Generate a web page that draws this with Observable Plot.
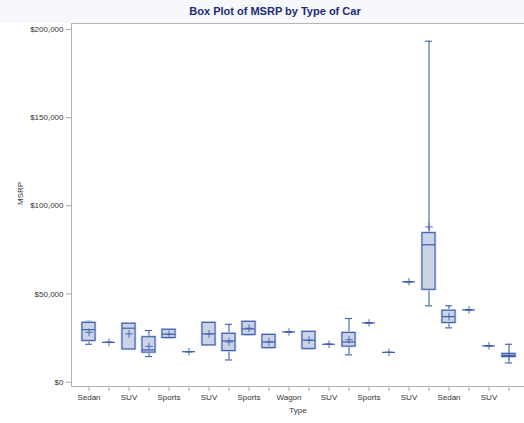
<!DOCTYPE html>
<html>
<head>
<meta charset="utf-8">
<script src="https://cdn.jsdelivr.net/npm/d3@7"></script>
<script src="https://cdn.jsdelivr.net/npm/@observablehq/plot@0.6"></script>
<style>
  html, body { margin: 0; padding: 0; background: #ffffff; width: 524px; height: 423px; overflow: hidden; }
  #title { width: 524px; height: 23px; background: #f6f8fc; position: relative; }
  #title span { position: absolute; left: 0; width: 550px; top: 5px; text-align: center;
    font-family: "Liberation Sans", Arial, sans-serif; font-weight: bold; font-size: 11px; color: #1d2c78; }
  #chart svg g[aria-label*="axis"] line, #chart svg g[aria-label*="axis"] path { stroke: #a9a9a9; }
</style>
</head>
<body>
<div id="title"><span>Box Plot of MSRP by Type of Car</span></div>
<div id="chart"></div>
<script>
// Category (Type) labels, one per box, left to right
const types = ["Sedan","Sports","SUV","Sedan","Sports","Wagon","SUV","Sedan","Sports","Sedan","Wagon",
               "Sedan","SUV","Sedan","Sports","Wagon","SUV","Sedan","Sedan","Sports","SUV","Sedan"];
// Box statistics (MSRP, $)
const mins    = [21500,22600,18600,14500,25100,17300,20900,12600,26800,19400,28500,18900,21500,15500,33600,16900,56900, 43300,30800,41000,20600,10900];
const q1s     = [23400,22600,18600,16800,25100,17300,20900,17700,26800,19400,28500,18900,21500,20200,33600,16900,56900, 52400,33600,41000,20600,14300];
const medians = [29800,22600,30600,18300,27200,17300,27400,23400,30200,22800,28500,23800,21500,22800,33600,16900,56900, 77900,37200,41000,20600,15200];
const q3s     = [33600,22600,33100,25500,29700,17300,33600,27400,34200,26800,28500,28500,21500,27900,33600,16900,56900, 84500,40500,41000,20600,16000];
const maxs    = [34500,22600,33100,29300,29700,17300,33600,32800,34200,26800,28500,28500,21500,36100,33600,16900,56900,193300,43300,41000,20600,21500];
const means   = [28300,22600,27400,20300,27200,17300,27400,22800,30600,22800,28500,23800,21500,24100,33600,16900,56900, 88000,37200,41000,20600,15200];
const yTicks  = [0, 50000, 100000, 150000, 200000];

const data = types.map((t, i) => ({
  key: i, type: t, min: mins[i], q1: q1s[i], median: medians[i], q3: q3s[i], max: maxs[i], mean: means[i]
}));

const blue = "#3e5eae";
const fmt = d3.format(",");

const chart = Plot.plot({
  width: 524,
  height: 400,
  marginLeft: 71,
  marginRight: 0,
  marginTop: 0,
  marginBottom: 37,
  style: { fontFamily: "Liberation Sans, Arial, sans-serif", fontSize: "8px", color: "#333", background: "transparent", overflow: "visible" },
  x: {
    type: "band",
    domain: data.map(d => d.key),
    range: [75.8, 519.9],
    paddingInner: 0.367,
    paddingOuter: 0,
    align: 0.5,
    tickSize: 5,
    tickPadding: 3,
    tickFormat: i => (i % 2 === 0 ? types[i] : ""),
    label: null
  },
  y: {
    domain: [0, 200000],
    range: [358.7, 5.9],
    ticks: yTicks,
    tickSize: 5,
    tickPadding: 3,
    tickFormat: d => "$" + fmt(d),
    label: null
  },
  marks: [
    Plot.frame({ stroke: "#b4b4b4" }),
    Plot.ruleX(data, { x: "key", y1: "min", y2: "q1", stroke: blue, strokeWidth: 1.1 }),
    Plot.ruleX(data, { x: "key", y1: "q3", y2: "max", stroke: blue, strokeWidth: 1.1 }),
    Plot.tickY(data, { x: "key", y: "min", stroke: blue, strokeWidth: 1.1, insetLeft: 3, insetRight: 3 }),
    Plot.tickY(data, { x: "key", y: "max", stroke: blue, strokeWidth: 1.1, insetLeft: 3, insetRight: 3 }),
    Plot.barY(data, { x: "key", y1: "q1", y2: "q3", fill: "none", stroke: "#c3cee6", strokeWidth: 2.6 }),
    Plot.barY(data, { x: "key", y1: "q1", y2: "q3", fill: "#cad4e6", stroke: blue, strokeWidth: 1.1 }),
    Plot.tickY(data, { x: "key", y: "median", stroke: blue, strokeWidth: 1.2 }),
    Plot.dot(data, { x: "key", y: "mean", symbol: "plus", r: 2.6, stroke: blue, strokeWidth: 0.9 }),
    Plot.text(["MSRP"], { frameAnchor: "left", dx: -51, rotate: -90, fontSize: 8, fill: "#333" }),
    Plot.text(["Type"], { frameAnchor: "bottom", dy: 26, fontSize: 8, fill: "#333" })
  ]
});
document.getElementById("chart").appendChild(chart);
</script>
</body>
</html>
